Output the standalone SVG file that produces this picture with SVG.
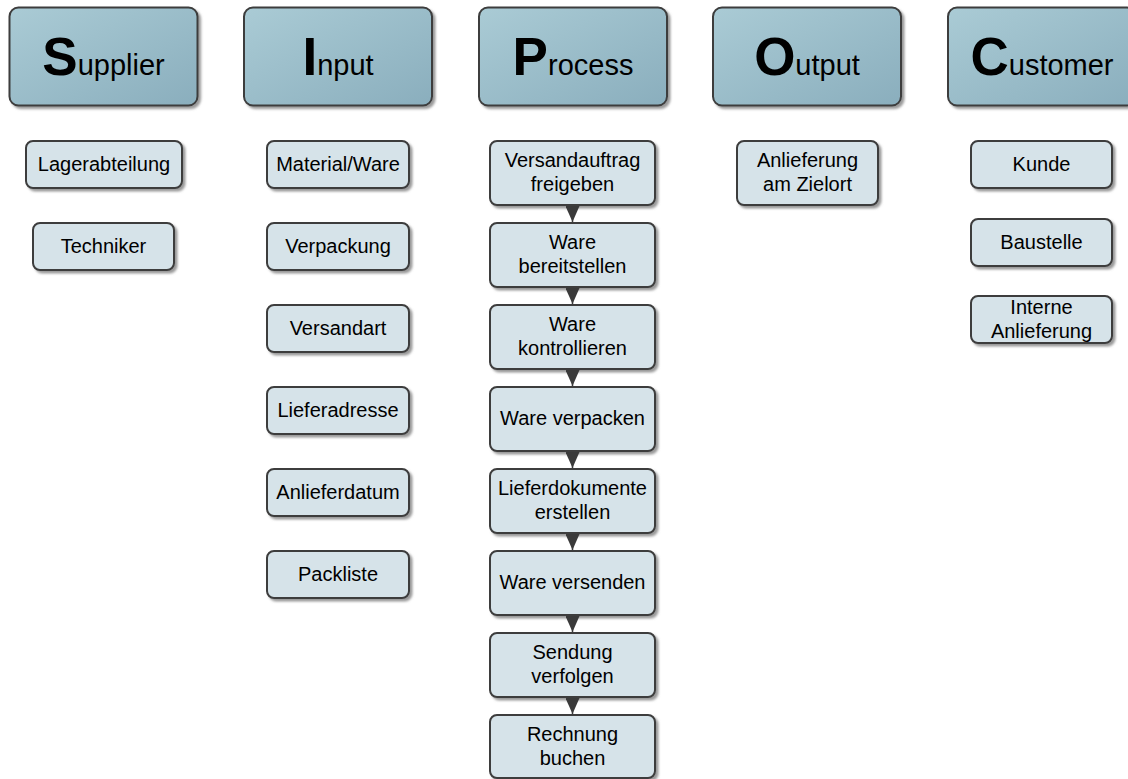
<svg xmlns="http://www.w3.org/2000/svg" width="1128" height="779" viewBox="0 0 1128 779">
  <defs>
    <linearGradient id="hdrFill" x1="0" y1="0" x2="1" y2="1">
      <stop offset="0" stop-color="#AACBD5"/>
      <stop offset="1" stop-color="#8AAEBD"/>
    </linearGradient>
    <filter id="shadow" x="-10%" y="-10%" width="130%" height="130%">
      <feDropShadow dx="2.5" dy="2.5" stdDeviation="1" flood-color="#808080" flood-opacity="0.8"/>
    </filter>
    <marker id="arrow" viewBox="0 0 16 14" markerWidth="16" markerHeight="14" refX="16" refY="7" orient="auto" markerUnits="userSpaceOnUse">
      <path d="M0,0 L16,7 L0,14 Z" fill="#3A3A3A"/>
    </marker>
  </defs>
  <style>
    .hdr { fill: url(#hdrFill); stroke: #3C3C3C; stroke-width: 2; filter: url(#shadow); }
    .box { fill: #D6E3E9; stroke: #3C3C3C; stroke-width: 2; filter: url(#shadow); }
    .big { font-family: "Liberation Sans", Arial, sans-serif; font-weight: bold; font-size: 53px; }
    .hd { font-family: "Liberation Sans", Arial, sans-serif; font-size: 29px; fill: #000; }
    .lbl { font-family: "Liberation Sans", Arial, sans-serif; font-size: 20px; fill: #000; text-anchor: middle; }
    .conn { stroke: #3A3A3A; stroke-width: 1.5; fill: none; }
  </style>
  <rect width="1128" height="779" fill="#FFFFFF"/>

  <!-- Column headers -->
  <g id="hdr-supplier">
    <rect class="hdr" x="9.5" y="7.5" width="188" height="98" rx="9"/>
    <text class="hd" x="103.5" y="75" text-anchor="middle"><tspan class="big">S</tspan>upplier</text>
  </g>
  <g id="hdr-input">
    <rect class="hdr" x="244" y="7.5" width="188" height="98" rx="9"/>
    <text class="hd" x="338" y="75" text-anchor="middle"><tspan class="big">I</tspan>nput</text>
  </g>
  <g id="hdr-process">
    <rect class="hdr" x="479" y="7.5" width="188" height="98" rx="9"/>
    <text class="hd" x="573" y="75" text-anchor="middle"><tspan class="big">P</tspan>rocess</text>
  </g>
  <g id="hdr-output">
    <rect class="hdr" x="713" y="7.5" width="188" height="98" rx="9"/>
    <text class="hd" x="807" y="75" text-anchor="middle"><tspan class="big">O</tspan>utput</text>
  </g>
  <g id="hdr-customer">
    <rect class="hdr" x="948" y="7.5" width="188" height="98" rx="9"/>
    <text class="hd" x="1042" y="75" text-anchor="middle"><tspan class="big">C</tspan>ustomer</text>
  </g>

  <!-- Supplier -->
  <g id="s-lager">
    <rect class="box" x="26" y="141" width="156" height="47" rx="7"/>
    <text class="lbl" x="104" y="171">Lagerabteilung</text>
  </g>
  <g id="s-techniker">
    <rect class="box" x="33" y="223" width="141" height="47" rx="7"/>
    <text class="lbl" x="103.5" y="253">Techniker</text>
  </g>

  <!-- Input -->
  <g id="i-material">
    <rect class="box" x="267" y="141" width="142" height="47" rx="7"/>
    <text class="lbl" x="338" y="171">Material/Ware</text>
  </g>
  <g id="i-verpackung">
    <rect class="box" x="267" y="223" width="142" height="47" rx="7"/>
    <text class="lbl" x="338" y="253">Verpackung</text>
  </g>
  <g id="i-versandart">
    <rect class="box" x="267" y="305" width="142" height="47" rx="7"/>
    <text class="lbl" x="338" y="335">Versandart</text>
  </g>
  <g id="i-lieferadresse">
    <rect class="box" x="267" y="387" width="142" height="47" rx="7"/>
    <text class="lbl" x="338" y="417">Lieferadresse</text>
  </g>
  <g id="i-anlieferdatum">
    <rect class="box" x="267" y="469" width="142" height="47" rx="7"/>
    <text class="lbl" x="338" y="499">Anlieferdatum</text>
  </g>
  <g id="i-packliste">
    <rect class="box" x="267" y="551" width="142" height="47" rx="7"/>
    <text class="lbl" x="338" y="581">Packliste</text>
  </g>

  <!-- Process -->
  <g id="p-1">
    <rect class="box" x="490" y="141" width="165" height="64" rx="7"/>
    <text class="lbl" x="572.5" y="167">Versandauftrag</text>
    <text class="lbl" x="572.5" y="191">freigeben</text>
  </g>
  <g id="p-2">
    <rect class="box" x="490" y="223" width="165" height="64" rx="7"/>
    <text class="lbl" x="572.5" y="249">Ware</text>
    <text class="lbl" x="572.5" y="273">bereitstellen</text>
  </g>
  <g id="p-3">
    <rect class="box" x="490" y="305" width="165" height="64" rx="7"/>
    <text class="lbl" x="572.5" y="331">Ware</text>
    <text class="lbl" x="572.5" y="355">kontrollieren</text>
  </g>
  <g id="p-4">
    <rect class="box" x="490" y="387" width="165" height="64" rx="7"/>
    <text class="lbl" x="572.5" y="425">Ware verpacken</text>
  </g>
  <g id="p-5">
    <rect class="box" x="490" y="469" width="165" height="64" rx="7"/>
    <text class="lbl" x="572.5" y="495">Lieferdokumente</text>
    <text class="lbl" x="572.5" y="519">erstellen</text>
  </g>
  <g id="p-6">
    <rect class="box" x="490" y="551" width="165" height="64" rx="7"/>
    <text class="lbl" x="572.5" y="589">Ware versenden</text>
  </g>
  <g id="p-7">
    <rect class="box" x="490" y="633" width="165" height="64" rx="7"/>
    <text class="lbl" x="572.5" y="659">Sendung</text>
    <text class="lbl" x="572.5" y="683">verfolgen</text>
  </g>
  <g id="p-8">
    <rect class="box" x="490" y="715" width="165" height="63" rx="7"/>
    <text class="lbl" x="572.5" y="741">Rechnung</text>
    <text class="lbl" x="572.5" y="765">buchen</text>
  </g>

  <!-- Output -->
  <g id="o-anlieferung">
    <rect class="box" x="737" y="141" width="141" height="64" rx="7"/>
    <text class="lbl" x="807.5" y="167">Anlieferung</text>
    <text class="lbl" x="807.5" y="191">am Zielort</text>
  </g>

  <!-- Customer -->
  <g id="c-kunde">
    <rect class="box" x="971" y="141" width="141" height="47" rx="7"/>
    <text class="lbl" x="1041.5" y="171">Kunde</text>
  </g>
  <g id="c-baustelle">
    <rect class="box" x="971" y="219" width="141" height="47" rx="7"/>
    <text class="lbl" x="1041.5" y="249">Baustelle</text>
  </g>
  <g id="c-intern">
    <rect class="box" x="971" y="296" width="141" height="47" rx="7"/>
    <text class="lbl" x="1041.5" y="314">Interne</text>
    <text class="lbl" x="1041.5" y="338">Anlieferung</text>
  </g>

  <!-- Process flow connectors -->
  <g id="connectors">
    <line class="conn" x1="572.5" y1="206" x2="572.5" y2="222" marker-end="url(#arrow)"/>
    <line class="conn" x1="572.5" y1="288" x2="572.5" y2="304" marker-end="url(#arrow)"/>
    <line class="conn" x1="572.5" y1="370" x2="572.5" y2="386" marker-end="url(#arrow)"/>
    <line class="conn" x1="572.5" y1="452" x2="572.5" y2="468" marker-end="url(#arrow)"/>
    <line class="conn" x1="572.5" y1="534" x2="572.5" y2="550" marker-end="url(#arrow)"/>
    <line class="conn" x1="572.5" y1="616" x2="572.5" y2="632" marker-end="url(#arrow)"/>
    <line class="conn" x1="572.5" y1="698" x2="572.5" y2="714" marker-end="url(#arrow)"/>
  </g>
</svg>
